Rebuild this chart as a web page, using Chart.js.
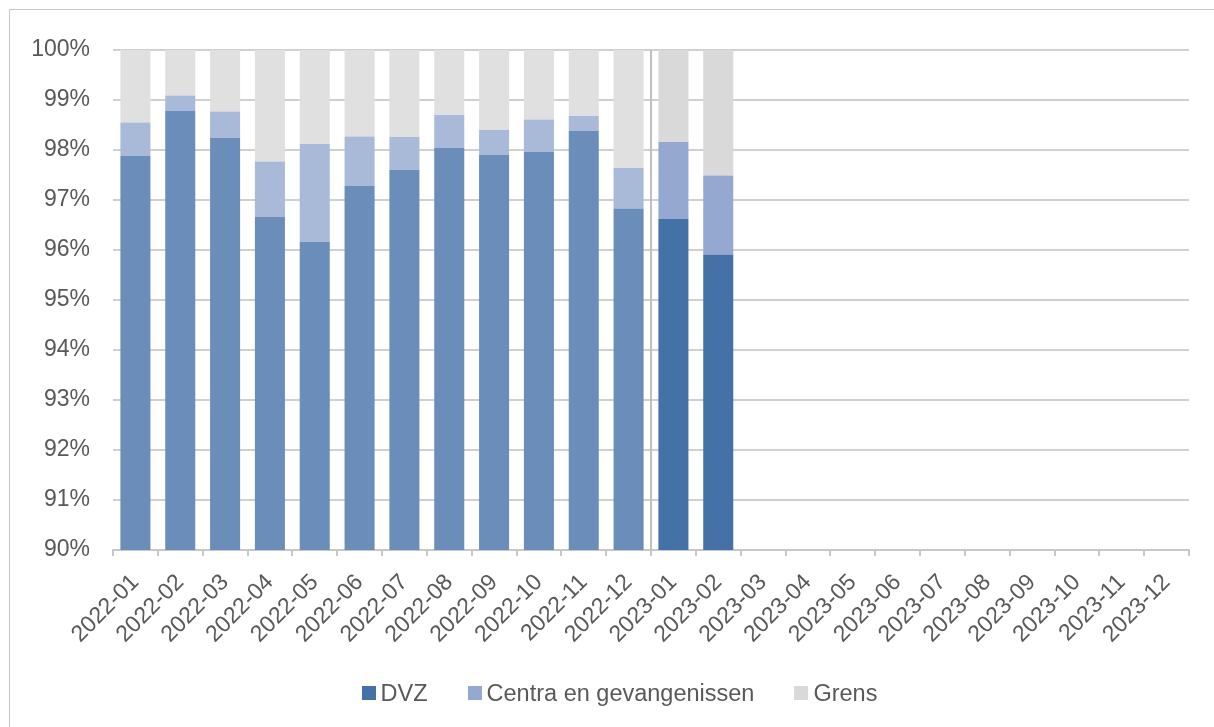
<!DOCTYPE html>
<html>
<head>
<meta charset="utf-8">
<script src="https://cdn.jsdelivr.net/npm/chart.js@4.4.1/dist/chart.umd.min.js"></script>
<style>
  html, body { margin: 0; padding: 0; background: #fff; }
  #wrap { position: relative; width: 1214px; height: 727px; overflow: hidden; font-family: "Liberation Sans", Arial, sans-serif; }
  #frame { position: absolute; left: 9px; top: 9px; width: 1230px; height: 740px; border: 1px solid #C6C6C6; box-sizing: border-box; }
  #chart { position: absolute; left: 0; top: 0; }
  #legend { position: absolute; left: 0; top: 680px; width: 1239px; display: flex; justify-content: center; align-items: center;
            font-size: 23.5px; line-height: 26px; color: #595959; }
  #legend .item { display: flex; align-items: center; margin: 0 20px; }
  #legend .box { width: 14px; height: 14px; margin-right: 5px; }
</style>
</head>
<body>
<div id="wrap">
  <div id="frame"></div>
  <canvas id="chart" width="1214" height="727"></canvas>
  <div id="legend"></div>
</div>
<script>
// months on the x axis
const months = [
  '2022-01', '2022-02', '2022-03', '2022-04', '2022-05', '2022-06',
  '2022-07', '2022-08', '2022-09', '2022-10', '2022-11', '2022-12',
  '2023-01', '2023-02', '2023-03', '2023-04', '2023-05', '2023-06',
  '2023-07', '2023-08', '2023-09', '2023-10', '2023-11', '2023-12'
];

// shares in %, stacked to 100
const dvz    = [97.88, 98.78, 98.24, 96.66, 96.16, 97.28, 97.60, 98.04, 97.90, 97.96, 98.38, 96.83, 96.62, 95.91];
const centra = [ 0.67,  0.31,  0.53,  1.11,  1.96,  0.99,  0.66,  0.66,  0.50,  0.65,  0.30,  0.81,  1.54,  1.58];
const grens  = [ 1.45,  0.91,  1.23,  2.23,  1.88,  1.73,  1.74,  1.30,  1.60,  1.39,  1.32,  2.36,  1.84,  2.51];

// y axis range
const yMin = 90;
const yMax = 100;

// first 12 months are shown faded
const pastCount = 12;

function colorBy(past, current) {
  return ctx => (ctx.dataIndex < pastCount ? past : current);
}

// grey line between 2022 and 2023
const splitLine = {
  id: 'splitLine',
  afterDatasetsDraw(chart) {
    const xs = chart.scales.x;
    const area = chart.chartArea;
    const px = (xs.getPixelForValue(pastCount - 1) + xs.getPixelForValue(pastCount)) / 2;
    const c = chart.ctx;
    c.save();
    c.strokeStyle = '#BFBFBF';
    c.lineWidth = 2;
    c.beginPath();
    c.moveTo(px, area.top);
    c.lineTo(px, area.bottom);
    c.stroke();
    c.restore();
  }
};

Chart.defaults.font.family = '"Liberation Sans", Arial, sans-serif';
Chart.defaults.color = '#595959';

const chart = new Chart(document.getElementById('chart'), {
  type: 'bar',
  data: {
    labels: months,
    datasets: [
      {
        label: 'DVZ',
        data: dvz,
        backgroundColor: colorBy('#6A8EB9', '#4472A6')
      },
      {
        label: 'Centra en gevangenissen',
        data: centra,
        backgroundColor: colorBy('#A9BAD8', '#95A9D0')
      },
      {
        label: 'Grens',
        data: grens,
        backgroundColor: colorBy('#E0E0E0', '#D9D9D9')
      }
    ]
  },
  options: {
    responsive: false,
    animation: false,
    layout: {
      padding: { left: 0, right: 25, top: 50, bottom: 0 }
    },
    datasets: {
      bar: {
        barPercentage: 0.67,
        categoryPercentage: 1,
        borderWidth: 0
      }
    },
    scales: {
      x: {
        stacked: true,
        afterFit: s => { s.height = 177; },
        grid: {
          drawOnChartArea: false,
          drawTicks: true,
          tickLength: 6,
          color: '#C8C8C8',
          lineWidth: 2
        },
        border: { display: true, color: '#C8C8C8', width: 2 },
        ticks: {
          autoSkip: false,
          minRotation: 45,
          maxRotation: 45,
          padding: 13,
          font: { size: 23 },
          color: '#595959'
        }
      },
      y: {
        stacked: true,
        min: yMin,
        max: yMax,
        afterFit: s => { s.width = 113; },
        grid: {
          color: '#D0D0D0',
          lineWidth: 2,
          drawTicks: false
        },
        border: { display: false },
        ticks: {
          stepSize: 1,
          padding: 23,
          font: { size: 23 },
          color: '#595959',
          callback: v => v + '%'
        }
      }
    },
    plugins: {
      tooltip: { enabled: false },
      legend: { display: false }
    }
  },
  plugins: [splitLine]
});

// legend under the chart, built from the datasets
const legendEl = document.getElementById('legend');
chart.data.datasets.forEach(ds => {
  const item = document.createElement('div');
  item.className = 'item';
  const box = document.createElement('span');
  box.className = 'box';
  box.style.background = ds.backgroundColor({ dataIndex: pastCount });
  const txt = document.createElement('span');
  txt.textContent = ds.label;
  item.appendChild(box);
  item.appendChild(txt);
  legendEl.appendChild(item);
});
</script>
</body>
</html>
